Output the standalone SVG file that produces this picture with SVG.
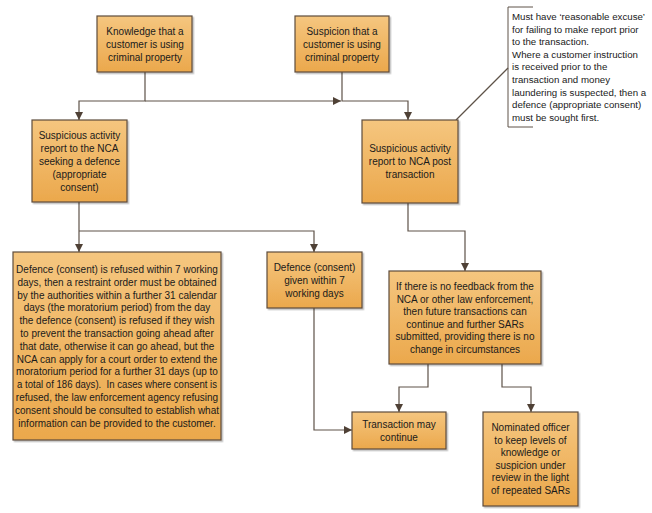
<svg xmlns="http://www.w3.org/2000/svg" width="652" height="513" viewBox="0 0 652 513">
<defs>
<linearGradient id="g" x1="0" y1="0" x2="0" y2="1">
<stop offset="0" stop-color="#F5C67F"/>
<stop offset="1" stop-color="#EBA84C"/>
</linearGradient>
<marker id="ar" markerWidth="9" markerHeight="9" refX="8" refY="4.5" orient="auto" markerUnits="userSpaceOnUse">
<path d="M0,0.5 L8,4.5 L0,8.5 Z" fill="#4F4136"/>
</marker>
<filter id="sh" x="-10%" y="-10%" width="130%" height="130%">
<feDropShadow dx="1.5" dy="1.5" stdDeviation="0.6" flood-color="#000" flood-opacity="0.25"/>
</filter>
</defs>
<style>
.box{fill:url(#g);stroke:#5E4B3C;stroke-width:1.2;filter:url(#sh)}
.t{font-family:"Liberation Sans",Arial,sans-serif;font-size:10px;fill:#1a1a1a;text-anchor:middle}
.n{font-family:"Liberation Sans",Arial,sans-serif;font-size:9.7px;fill:#1a1a1a}
.c{fill:none;stroke:#5E5248;stroke-width:1.2}
.cm{fill:none;stroke:#5E5248;stroke-width:1.2;marker-end:url(#ar)}
</style>
<rect width="652" height="513" fill="#fff"/>
<g id="connectors">
<path class="cm" d="M145,72 V101 H79 V120"/>
<path class="cm" d="M145,101 H341"/>
<path class="cm" d="M342,72 V101 H408 V120"/>
<path class="c" d="M456,120 L508,68" stroke-width="0.8"/>
<path class="cm" d="M79,202 V252"/>
<path class="cm" d="M79,231 H314 V252"/>
<path class="cm" d="M408,203 V231 H465 V271"/>
<path class="cm" d="M314,308 V430 H352"/>
<path class="cm" d="M428,364 V387 H399 V412"/>
<path class="cm" d="M502,364 V387 H531 V412"/>
</g>
<g id="knowledge">
<rect class="box" x="97" y="16" width="95" height="56"/>
<text class="t" x="145" y="35">Knowledge that a</text>
<text class="t" x="145" y="48">customer is using</text>
<text class="t" x="145" y="61">criminal property</text>
</g>
<g id="suspicion">
<rect class="box" x="295" y="16" width="94" height="56"/>
<text class="t" x="342" y="35">Suspicion that a</text>
<text class="t" x="342" y="48">customer is using</text>
<text class="t" x="342" y="61">criminal property</text>
</g>
<g id="note">
<path d="M533,7 H508 V127 H533" fill="none" stroke="#5E5248" stroke-width="1"/>
<text class="n" x="512" y="20">Must have ‘reasonable excuse’</text>
<text class="n" x="512" y="32.6">for failing to make report prior</text>
<text class="n" x="512" y="45.2">to the transaction.</text>
<text class="n" x="512" y="57.8">Where a customer instruction</text>
<text class="n" x="512" y="70.4">is received prior to the</text>
<text class="n" x="512" y="83">transaction and money</text>
<text class="n" x="512" y="95.6">laundering is suspected, then a</text>
<text class="n" x="512" y="108.2">defence (appropriate consent)</text>
<text class="n" x="512" y="120.8">must be sought first.</text>
</g>
<g id="sar-defence">
<rect class="box" x="32" y="120" width="95" height="82"/>
<text class="t" x="79.5" y="139">Suspicious activity</text>
<text class="t" x="79.5" y="152">report to the NCA</text>
<text class="t" x="79.5" y="165">seeking a defence</text>
<text class="t" x="79.5" y="178">(appropriate</text>
<text class="t" x="79.5" y="191">consent)</text>
</g>
<g id="sar-post">
<rect class="box" x="362" y="120" width="96" height="83"/>
<text class="t" x="410" y="152">Suspicious activity</text>
<text class="t" x="410" y="165">report to NCA post</text>
<text class="t" x="410" y="178">transaction</text>
</g>
<g id="refused">
<rect class="box" x="13" y="252" width="208" height="188"/>
<text class="t" x="117" y="273">Defence (consent) is refused within 7 working</text>
<text class="t" x="117" y="285.8">days, then a restraint order must be obtained</text>
<text class="t" x="117" y="298.6">by the authorities within a further 31 calendar</text>
<text class="t" x="117" y="311.4">days (the moratorium period) from the day</text>
<text class="t" x="117" y="324.2">the defence (consent) is refused if they wish</text>
<text class="t" x="117" y="337">to prevent the transaction going ahead after</text>
<text class="t" x="117" y="349.8">that date, otherwise it can go ahead, but the</text>
<text class="t" x="117" y="362.6">NCA can apply for a court order to extend the</text>
<text class="t" x="117" y="375.4">moratorium period for a further 31 days (up to</text>
<text class="t" x="117" y="388.2" xml:space="preserve" textLength="200" lengthAdjust="spacingAndGlyphs">a total of 186 days).  In cases where consent is</text>
<text class="t" x="117" y="401">refused, the law enforcement agency refusing</text>
<text class="t" x="117" y="413.8">consent should be consulted to establish what</text>
<text class="t" x="117" y="426.6">information can be provided to the customer.</text>
</g>
<g id="given">
<rect class="box" x="267" y="252" width="95" height="56"/>
<text class="t" x="314.5" y="271">Defence (consent)</text>
<text class="t" x="314.5" y="284">given within 7</text>
<text class="t" x="314.5" y="297">working days</text>
</g>
<g id="nofeedback">
<rect class="box" x="389" y="271" width="152" height="93"/>
<text class="t" x="465" y="290">If there is no feedback from the</text>
<text class="t" x="465" y="302.6">NCA or other law enforcement,</text>
<text class="t" x="465" y="315.2">then future transactions can</text>
<text class="t" x="465" y="327.8">continue and further SARs</text>
<text class="t" x="465" y="340.4">submitted, providing there is no</text>
<text class="t" x="465" y="353">change in circumstances</text>
</g>
<g id="transaction">
<rect class="box" x="352" y="412" width="94" height="37"/>
<text class="t" x="399" y="428">Transaction may</text>
<text class="t" x="399" y="441">continue</text>
</g>
<g id="nominated">
<rect class="box" x="483" y="412" width="95" height="94"/>
<text class="t" x="530.5" y="431">Nominated officer</text>
<text class="t" x="530.5" y="443.6">to keep levels of</text>
<text class="t" x="530.5" y="456.2">knowledge or</text>
<text class="t" x="530.5" y="468.8">suspicion under</text>
<text class="t" x="530.5" y="481.4">review in the light</text>
<text class="t" x="530.5" y="494">of repeated SARs</text>
</g>
</svg>
